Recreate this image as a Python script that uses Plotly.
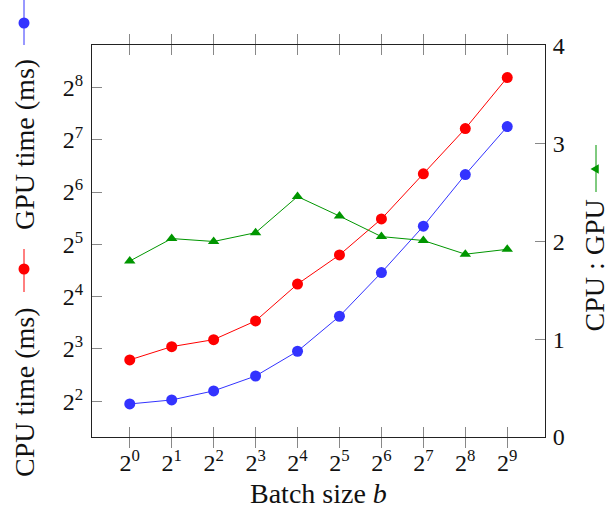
import plotly.graph_objects as go

# ---- data ----
batch_exp = [0, 1, 2, 3, 4, 5, 6, 7, 8, 9]
batch_sizes = [2 ** k for k in batch_exp]
cpu_time = [3.86, 4.07, 4.59, 5.59, 7.76, 12.34, 22.0, 40.7, 80.6, 152.2]
gpu_time = [6.92, 8.25, 9.05, 11.6, 18.9, 27.8, 44.8, 81.4, 148.3, 291.5]
ratio = [1.80, 2.03, 2.00, 2.09, 2.46, 2.26, 2.05, 2.01, 1.87, 1.92]

x_ticktext = ["2<sup>%d</sup>" % k for k in batch_exp]
y_exp = [2, 3, 4, 5, 6, 7, 8]
y_tickvals = [2 ** k for k in y_exp]
y_ticktext = ["2<sup>%d</sup>" % k for k in y_exp]
y2_tickvals = [0, 1, 2, 3, 4]

# ---- style ----
W, H = 608, 514
L, R, T, B = 92, 545, 45, 437
PW, PH = R - L, B - T
FONT = "Liberation Serif"
BLUE = "#3333ff"
RED = "#ff0000"
GREEN = "#009600"
LOG2 = 0.30103


def px(x):
    return (x - L) / PW


def py(y):
    return (B - y) / PH


fig = go.Figure()
fig.add_trace(go.Scatter(x=batch_sizes, y=cpu_time, mode="lines+markers",
                         line=dict(color=BLUE, width=1),
                         marker=dict(color=BLUE, size=11, symbol="circle"),
                         name="CPU time (ms)"))
fig.add_trace(go.Scatter(x=batch_sizes, y=gpu_time, mode="lines+markers",
                         line=dict(color=RED, width=1),
                         marker=dict(color=RED, size=11, symbol="circle"),
                         name="GPU time (ms)"))
fig.add_trace(go.Scatter(x=batch_sizes, y=ratio, mode="lines+markers", yaxis="y2",
                         line=dict(color=GREEN, width=1),
                         marker=dict(color=GREEN, size=10, symbol="triangle-up"),
                         name="CPU : GPU"))

axis_common = dict(showgrid=False, zeroline=False, ticks="inside", ticklen=10,
                   tickcolor="#888888", tickwidth=1, showline=True,
                   linecolor="#222222", linewidth=1, automargin=False,
                   tickfont=dict(family=FONT, size=24, color="#111111"))

fig.update_layout(
    width=W, height=H, autosize=False,
    margin=dict(l=L, r=W - R, t=T, b=H - B, pad=0),
    plot_bgcolor="white", paper_bgcolor="white",
    showlegend=False,
    font=dict(family=FONT, size=24, color="#111111"),
    xaxis=dict(type="log", range=[-0.9 * LOG2, 9.9 * LOG2],
               tickvals=batch_sizes, ticktext=x_ticktext,
               mirror="allticks", ticklabelstandoff=4, **axis_common),
    yaxis=dict(type="log", range=[1.317 * LOG2, 8.81 * LOG2],
               tickvals=y_tickvals, ticktext=y_ticktext,
               ticklabelstandoff=3, **axis_common),
    yaxis2=dict(overlaying="y", side="right", range=[0, 4.01],
                tickvals=y2_tickvals, ticklabelstandoff=2, **axis_common),
)

ann = []
tf = dict(family=FONT, size=28, color="#111111")
ann.append(dict(text="Batch size <i>b</i>", x=px(318.5), y=py(493), xref="paper", yref="paper",
                showarrow=False, font=tf, xanchor="center", yanchor="middle"))
ann.append(dict(text="CPU time (ms)", x=px(24), y=py(392), xref="paper", yref="paper",
                showarrow=False, font=tf, textangle=-90, xanchor="center", yanchor="middle"))
ann.append(dict(text="GPU time (ms)", x=px(24), y=py(145), xref="paper", yref="paper",
                showarrow=False, font=tf, textangle=-90, xanchor="center", yanchor="middle"))
ann.append(dict(text="CPU : GPU", x=px(594), y=py(265.5), xref="paper", yref="paper",
                showarrow=False, font=tf, textangle=-90, xanchor="center", yanchor="middle"))
fig.update_layout(annotations=ann)

shapes = []


def legend_line(xc, y0, y1, color):
    shapes.append(dict(type="line", xref="paper", yref="paper",
                       x0=px(xc), x1=px(xc), y0=py(y0), y1=py(y1),
                       line=dict(color=color, width=1)))


def legend_circle(xc, yc, color, r=5.5):
    shapes.append(dict(type="circle", xref="paper", yref="paper",
                       x0=px(xc - r), x1=px(xc + r), y0=py(yc + r), y1=py(yc - r),
                       fillcolor=color, line=dict(color=color, width=0)))


legend_line(24, 0, 45, BLUE)
legend_circle(24, 23, BLUE)
legend_line(24, 249, 292, RED)
legend_circle(24, 269, RED)
legend_line(596, 145, 192, GREEN)
xc, yc, r = 596, 169, 5.5
pts = [(xc - r, yc), (xc + r / 2, yc - r * 0.87), (xc + r / 2, yc + r * 0.87)]
path = "M %f,%f L %f,%f L %f,%f Z" % tuple(v for p in pts for v in (px(p[0]), py(p[1])))
shapes.append(dict(type="path", xref="paper", yref="paper", path=path,
                   fillcolor=GREEN, line=dict(color=GREEN, width=0)))
fig.update_layout(shapes=shapes)

fig.write_html("out.html", config={"displayModeBar": False},
               post_script="document.body.style.margin='0';document.body.style.padding='0';")
